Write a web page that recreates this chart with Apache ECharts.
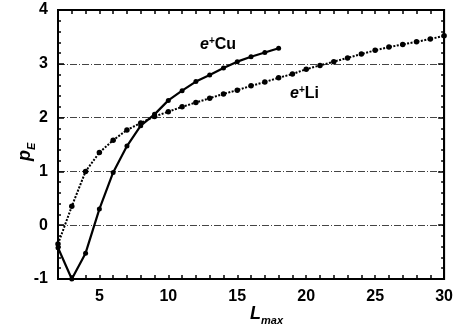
<!DOCTYPE html>
<html><head><meta charset="utf-8">
<script src="https://cdn.jsdelivr.net/npm/echarts@6/dist/echarts.min.js"></script>
<style>html,body{margin:0;padding:0;background:#fff}#c{width:456px;height:333px}</style>
</head><body><div id="c"></div>
<script>
const xLi = [2,3,4,5,6,7,8,9,10,11,12,13,14,15,16,17,18,19,20,21,22,23,24,25,26,27,28,29,30];
const yLi = [-0.35,0.35,1.0,1.35,1.58,1.77,1.90,2.02,2.11,2.20,2.28,2.36,2.44,2.51,2.59,2.66,2.74,2.81,2.90,2.97,3.04,3.11,3.18,3.25,3.31,3.36,3.41,3.46,3.52];
const xCu = [2,3,4,5,6,7,8,9,10,11,12,13,14,15,16,17,18];
const yCu = [-0.42,-1.0,-0.52,0.30,0.98,1.47,1.85,2.06,2.32,2.50,2.67,2.79,2.92,3.04,3.13,3.21,3.29];
const xLabels = [5,10,15,20,25,30];
const yLabels = [-1,0,1,2,3,4];

const ff = 'Arial, "Liberation Sans", sans-serif';
const chart = echarts.init(document.getElementById('c'));
const axisBase = {min:2, max:30, interval:1, splitLine:{show:false}};
const tickStyle = {color:'#000', width:1.5};
chart.setOption({
  animation:false,
  grid:{left:58, right:10, top:10, bottom:54, show:true, borderColor:'#000', borderWidth:2, backgroundColor:'transparent'},
  xAxis:[
    Object.assign({type:'value', position:'bottom', axisLine:{show:true, onZero:false, lineStyle:{color:'#000', width:2}},
      axisTick:{show:true, inside:true, length:4, lineStyle:tickStyle},
      axisLabel:{show:true, color:'#000', fontFamily:ff, fontWeight:'bold', fontSize:16, margin:10,
        formatter:v => (xLabels.indexOf(v) >= 0 ? String(v) : '')}}, axisBase),
    Object.assign({type:'value', position:'top', axisLine:{show:true, onZero:false, lineStyle:{color:'#000', width:2}},
      axisTick:{show:true, inside:true, length:4, lineStyle:tickStyle},
      axisLabel:{show:false}}, axisBase)
  ],
  yAxis:[
    {type:'value', position:'left', min:-1, max:4, interval:1,
      axisLine:{show:true, onZero:false, lineStyle:{color:'#000', width:2}},
      axisTick:{show:true, inside:true, length:6, lineStyle:tickStyle},
      minorTick:{show:true, splitNumber:5, length:3, lineStyle:tickStyle},
      axisLabel:{color:'#000', fontFamily:ff, fontWeight:'bold', fontSize:16, margin:10,
        formatter:v => (yLabels.indexOf(v) >= 0 ? String(v) : '')},
      splitLine:{show:true, lineStyle:{color:'#444', width:1, type:[7,2,1,2]}}},
    {type:'value', position:'right', min:-1, max:4, interval:1,
      axisLine:{show:true, onZero:false, lineStyle:{color:'#000', width:2}},
      axisTick:{show:true, inside:true, length:6, lineStyle:tickStyle},
      minorTick:{show:true, splitNumber:5, length:3, lineStyle:tickStyle},
      axisLabel:{show:false}, splitLine:{show:false}}
  ],
  series:[
    {type:'line', name:'e+Li', data:xLi.map((x,i)=>[x,yLi[i]]), xAxisIndex:0, yAxisIndex:0,
      symbol:'circle', symbolSize:5.5, showSymbol:true,
      lineStyle:{color:'#000', width:2, type:[2,1.5]}, itemStyle:{color:'#000'}, z:3},
    {type:'line', name:'e+Cu', data:xCu.map((x,i)=>[x,yCu[i]]), xAxisIndex:0, yAxisIndex:0,
      symbol:'circle', symbolSize:5, showSymbol:true,
      lineStyle:{color:'#000', width:2.2}, itemStyle:{color:'#000'}, z:4}
  ],
  graphic:[
    {type:'text', left:200, top:36, style:{text:'{e|e}{s|+}{t|Cu}', rich:{
      e:{fontFamily:ff, fontWeight:'bold', fontStyle:'italic', fontSize:16, fill:'#000'},
      s:{fontFamily:ff, fontWeight:'bold', fontSize:10, fill:'#000', verticalAlign:'top', lineHeight:18},
      t:{fontFamily:ff, fontWeight:'bold', fontSize:16, fill:'#000'}}}},
    {type:'text', left:290, top:85, style:{text:'{e|e}{s|+}{t|Li}', rich:{
      e:{fontFamily:ff, fontWeight:'bold', fontStyle:'italic', fontSize:16, fill:'#000'},
      s:{fontFamily:ff, fontWeight:'bold', fontSize:10, fill:'#000', verticalAlign:'top', lineHeight:18},
      t:{fontFamily:ff, fontWeight:'bold', fontSize:16, fill:'#000'}}}},
    {type:'text', left:250, top:305, style:{text:'{l|L}{s|max}', rich:{
      l:{fontFamily:ff, fontWeight:'bold', fontStyle:'italic', fontSize:18, fill:'#000'},
      s:{fontFamily:ff, fontWeight:'bold', fontStyle:'italic', fontSize:11, fill:'#000', verticalAlign:'bottom', lineHeight:24}}}},
    {type:'text', x:13, y:161, rotation:Math.PI/2, style:{text:'{p|p}{s|E}', rich:{
      p:{fontFamily:ff, fontWeight:'bold', fontStyle:'italic', fontSize:18, fill:'#000'},
      s:{fontFamily:ff, fontWeight:'bold', fontStyle:'italic', fontSize:11, fill:'#000', verticalAlign:'bottom', lineHeight:24}}}}
  ]
});
</script></body></html>
